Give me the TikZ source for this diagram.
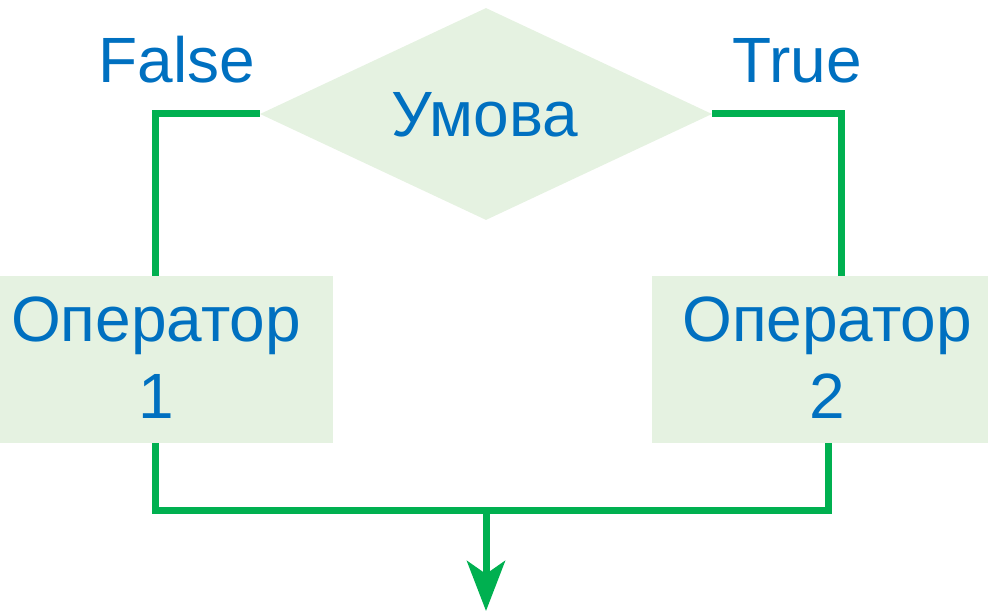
\documentclass[tikz,border=0pt]{standalone}
\usepackage{fontspec}
\setmainfont{Liberation Sans}
\usetikzlibrary{shapes.geometric,arrows.meta}
\definecolor{txtblue}{HTML}{0070C0}
\definecolor{flowgreen}{HTML}{00B050}
\definecolor{boxfill}{HTML}{E5F2E1}
\tikzset{
  lbl/.style={text=txtblue, inner sep=0pt, font={\fontsize{64}{77}\selectfont}, align=center},
  opbox/.style={fill=boxfill, draw=none, inner sep=0pt, anchor=north west},
  flow/.style={draw=flowgreen, line width=7pt},
}
\begin{document}
\begin{tikzpicture}[x=1pt,y=-1pt]
\useasboundingbox (0,0) rectangle (988,612);
% condition diamond
\node[diamond, fill=boxfill, draw=none, inner sep=0pt, minimum width=452pt, minimum height=212pt] (cond) at (486,114) {};
\node[lbl, anchor=base] (condt) at (485,137) {Умова};
% boxes
\node[opbox, minimum width=333pt, minimum height=167pt] (op1) at (0,276) {};
\node[opbox, minimum width=336pt, minimum height=167pt] (op2) at (652,276) {};
\node[lbl, anchor=north] (op1t) at (156,297) {Оператор\\1};
\node[lbl, anchor=north] (op2t) at (827,297) {Оператор\\2};
% branch labels
\node[lbl, anchor=base] (falset) at (177,83) {False};
\node[lbl, anchor=base] (truet) at (797,83) {True};
% helper coordinates
\coordinate (lcol) at (155,0);
\coordinate (rcol) at (841,0);
\coordinate (rcolb) at (828,0);
\coordinate (merge) at (486,510);
\coordinate (out) at (486,611);
% connectors
\draw[flow] (cond.west) -| (lcol |- op1.north);
\draw[flow] (cond.east) -| (rcol |- op2.north);
\draw[flow] (lcol |- op1.south) |- (merge) -| (rcolb |- op2.south);
\draw[flow, -{Stealth[length=50pt, width=38pt, inset=13pt]}] (merge) -- (out);
\end{tikzpicture}
\end{document}
